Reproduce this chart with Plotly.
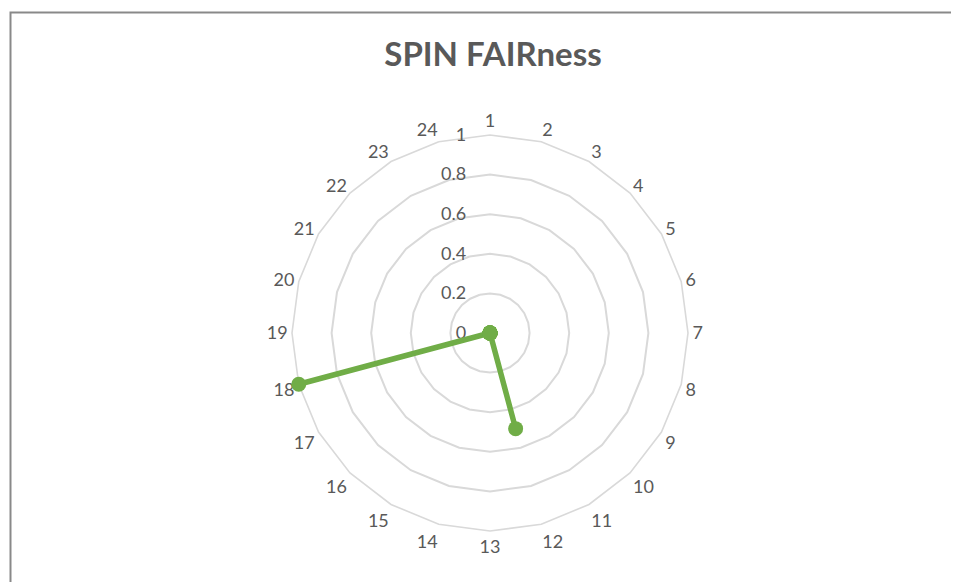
import plotly.graph_objects as go

categories = ["1", "2", "3", "4", "5", "6", "7", "8", "9", "10", "11", "12",
              "13", "14", "15", "16", "17", "18", "19", "20", "21", "22", "23", "24"]
values = [0, 0, 0, 0, 0, 0, 0, 0, 0, 0, 0, 0.5,
          0, 0, 0, 0, 0, 1.0, 0, 0, 0, 0, 0, 0]
radial_ticks = [0, 0.2, 0.4, 0.6, 0.8, 1]
radial_ticklabels = ["0", "0.2", "0.4", "0.6", "0.8", "1"]
title_text = "SPIN FAIRness"

GREEN = "#70ad47"
TEXT = "#595959"
GRID = "#d9d9d9"

# Plotly does not render markers lying exactly on r = 0, so nudge them
# by a sub-pixel amount (1e-4 of the axis = 0.02 px) for the marker layer.
marker_r = [v if v > 0 else 1e-4 for v in values]

fig = go.Figure()
fig.add_trace(go.Scatterpolar(
    r=values + values[:1],
    theta=categories + categories[:1],
    mode="lines",
    line=dict(color=GREEN, width=5.5),
    cliponaxis=False,
    showlegend=False,
    hoverinfo="skip",
))
fig.add_trace(go.Scatterpolar(
    r=marker_r,
    theta=categories,
    mode="markers",
    marker=dict(color=GREEN, size=15),
    cliponaxis=False,
    showlegend=False,
    hoverinfo="skip",
))

W, H = 959, 582
OFF = 8  # page body margin
cx, cy, R = 490 - OFF, 333 - OFF, 198
fig.update_layout(
    width=W, height=H,
    margin=dict(l=0, r=0, t=0, b=0),
    paper_bgcolor="white",
    font=dict(family="Lato, sans-serif", color=TEXT, size=18),
    title=dict(text="<b>%s</b>" % title_text, x=(493 - OFF) / W, xanchor="center",
               y=1 - (54 - OFF) / H, yanchor="middle",
               font=dict(size=33, color=TEXT, family="Lato, sans-serif")),
    polar=dict(
        domain=dict(x=[(cx - R) / W, (cx + R) / W], y=[1 - (cy + R) / H, 1 - (cy - R) / H]),
        bgcolor="white",
        gridshape="linear",
        radialaxis=dict(
            range=[0, 1], tickvals=radial_ticks, ticktext=radial_ticklabels,
            angle=90, tickangle=90, side="counterclockwise",
            showline=False, ticks="outside", ticklen=17, tickcolor="rgba(0,0,0,0)",
            showgrid=True, gridcolor=GRID, gridwidth=1.6, layer="below traces",
            tickfont=dict(size=18, color=TEXT),
        ),
        angularaxis=dict(
            type="category", categoryarray=categories, direction="clockwise", rotation=90,
            showgrid=False, showline=True, linecolor=GRID, linewidth=1.6, ticks="",
            layer="below traces",
            tickfont=dict(size=18, color=TEXT),
        ),
    ),
    shapes=[dict(type="rect", xref="paper", yref="paper",
                 x0=(10.5 - OFF) / W, x1=1.02, y0=-0.05, y1=1 - (12.5 - OFF) / H,
                 line=dict(color="#898989", width=2), fillcolor="rgba(0,0,0,0)", layer="below")],
)

fig.write_html("out.html")
